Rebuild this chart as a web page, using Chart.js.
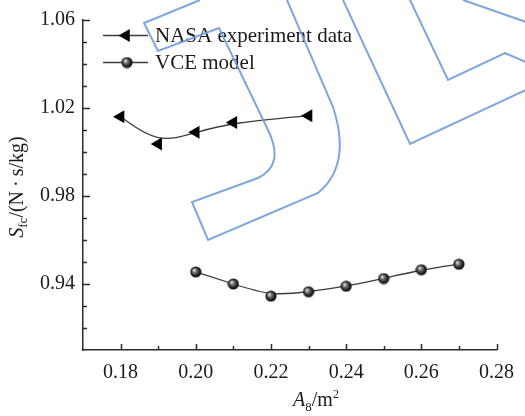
<!DOCTYPE html>
<html>
<head>
<meta charset="utf-8">
<script src="https://cdn.jsdelivr.net/npm/chart.js@4/dist/chart.umd.min.js"></script>
<style>
  html, body { margin: 0; padding: 0; background: #ffffff; }
  #wrap { width: 525px; height: 416px; }
</style>
</head>
<body>
<div id="wrap"><canvas id="c" width="525" height="416"></canvas></div>
<script>
// Nozzle throat area A8 (m^2) and specific fuel consumption Sfc (N·s/kg)
const nasaArea = [0.18, 0.19, 0.20, 0.21, 0.23];
const nasaSfc  = [1.016, 1.0036, 1.009, 1.0134, 1.0165];
const vceArea  = [0.20, 0.21, 0.22, 0.23, 0.24, 0.25, 0.26, 0.27];
const vceSfc   = [0.9455, 0.940, 0.9345, 0.9365, 0.939, 0.9425, 0.9465, 0.949];

const seriesNames = ['NASA experiment data', 'VCE model'];
const xTickLabels = ['0.18', '0.20', '0.22', '0.24', '0.26', '0.28'];
const yTickLabels = ['0.94', '0.98', '1.02', '1.06'];
const xRange = [0.17, 0.28];
const yRange = [0.91, 1.06];
const minorStep = 0.01;

const SERIF = "'Liberation Serif', 'Times New Roman', serif";
const INK = '#1b1b1b';
const AXIS = '#2b2b2b';
const CURVE = '#3c3c3c';

// shaded black ball used as the model marker
function makeBall(d) {
  const cv = document.createElement('canvas');
  cv.width = d; cv.height = d;
  const g = cv.getContext('2d');
  const r = d / 2;
  const grad = g.createRadialGradient(r - 1.8, r - 1.8, 0.4, r, r, r);
  grad.addColorStop(0, '#e6e6e6');
  grad.addColorStop(0.28, '#7a7a7a');
  grad.addColorStop(0.7, '#202020');
  grad.addColorStop(1, '#0a0a0a');
  g.fillStyle = grad;
  g.beginPath();
  g.arc(r, r, r - 0.4, 0, Math.PI * 2);
  g.fill();
  return cv;
}
const ball = makeBall(12);
const TRI_R = 7.5;

function toPoints(xs, ys) { return xs.map((x, i) => ({ x: x, y: ys[i] })); }

// clamped uniform cubic B-spline through the marker positions
function bsplinePath(ctx, pts) {
  if (pts.length < 2) return;
  const n = pts.length;
  const q = [pts[0], pts[0]].concat(pts, [pts[n - 1], pts[n - 1]]);
  ctx.moveTo(pts[0].x, pts[0].y);
  for (let i = 0; i + 3 < q.length; i++) {
    const b = q[i + 1], c = q[i + 2], d = q[i + 3];
    ctx.bezierCurveTo(
      (2 * b.x + c.x) / 3, (2 * b.y + c.y) / 3,
      (b.x + 2 * c.x) / 3, (b.y + 2 * c.y) / 3,
      (b.x + 4 * c.x + d.x) / 6, (b.y + 4 * c.y + d.y) / 6
    );
  }
}

function drawLeftTriangle(ctx, x, y, r) {
  ctx.beginPath();
  for (let k = 0; k < 3; k++) {
    const a = Math.PI + k * 2 * Math.PI / 3;
    const px = x + Math.cos(a) * r, py = y + Math.sin(a) * r;
    if (k === 0) ctx.moveTo(px, py); else ctx.lineTo(px, py);
  }
  ctx.closePath();
  ctx.fill();
}

const splinePlugin = {
  id: 'splineCurves',
  beforeDatasetsDraw(chart) {
    const ctx = chart.ctx;
    ctx.save();
    ctx.strokeStyle = CURVE;
    ctx.lineWidth = 1.3;
    chart.data.datasets.forEach((ds, i) => {
      const meta = chart.getDatasetMeta(i);
      const pts = meta.data.map(p => ({ x: p.x, y: p.y }));
      ctx.beginPath();
      bsplinePath(ctx, pts);
      ctx.stroke();
    });
    ctx.restore();
  }
};

const axisPlugin = {
  id: 'axisDecor',
  afterDraw(chart) {
    const ctx = chart.ctx;
    const xs = chart.scales.x, ys = chart.scales.y;
    const area = chart.chartArea;
    ctx.save();
    ctx.strokeStyle = AXIS;
    ctx.lineWidth = 1.5;
    // inward tick marks
    ctx.beginPath();
    const xMajor = xTickLabels.map(Number);
    for (let v = xRange[0] + minorStep; v <= xRange[1] + 1e-9; v += minorStep) {
      const isMajor = xMajor.some(m => Math.abs(m - v) < 1e-6);
      const px = Math.round(xs.getPixelForValue(v)) + 0.5;
      ctx.moveTo(px, area.bottom);
      ctx.lineTo(px, area.bottom - (isMajor ? 6 : 4));
    }
    const yMajor = yTickLabels.map(Number);
    for (let v = yRange[0] + minorStep; v <= yRange[1] + 1e-9; v += minorStep) {
      const isMajor = yMajor.some(m => Math.abs(m - v) < 1e-6);
      const py = Math.round(ys.getPixelForValue(v)) + 0.5;
      ctx.moveTo(area.left, py);
      ctx.lineTo(area.left + (isMajor ? 7 : 4), py);
    }
    ctx.stroke();

    // axis titles
    ctx.fillStyle = INK;
    ctx.textBaseline = 'alphabetic';
    // x: A8/m²
    const partsX = [
      { t: 'A', f: 'italic 20px ' + SERIF, dy: 0 },
      { t: '8', f: '13px ' + SERIF, dy: 5 },
      { t: '/m', f: '20px ' + SERIF, dy: 0 },
      { t: '2', f: '12px ' + SERIF, dy: -8 }
    ];
    let wx = 0;
    partsX.forEach(p => { ctx.font = p.f; p.w = ctx.measureText(p.t).width; wx += p.w; });
    let cx = 316 - wx / 2;
    partsX.forEach(p => { ctx.font = p.f; ctx.fillText(p.t, cx, 406 + p.dy); cx += p.w; });

    // y: Sfc/(N·s/kg), rotated
    ctx.save();
    ctx.translate(23, 187);
    ctx.rotate(-Math.PI / 2);
    const partsY = [
      { t: 'S', f: 'italic 20px ' + SERIF, dy: 0 },
      { t: 'fc', f: '13px ' + SERIF, dy: 4 },
      { t: '/(N\u2009\u00b7\u2009s/kg)', f: '20px ' + SERIF, dy: 0 }
    ];
    let wy = 0;
    partsY.forEach(p => { ctx.font = p.f; p.w = ctx.measureText(p.t).width; wy += p.w; });
    let cy = -wy / 2;
    partsY.forEach(p => { ctx.font = p.f; ctx.fillText(p.t, cy, p.dy); cy += p.w; });
    ctx.restore();

    // legend
    const rows = [35, 62];
    ctx.font = '21px ' + SERIF;
    ctx.textBaseline = 'middle';
    rows.forEach((ry, i) => {
      ctx.strokeStyle = CURVE;
      ctx.lineWidth = 1.3;
      ctx.beginPath();
      ctx.moveTo(103, ry + 0.5);
      ctx.lineTo(148, ry + 0.5);
      ctx.stroke();
      if (i === 0) {
        ctx.fillStyle = '#000';
        drawLeftTriangle(ctx, 126, ry + 0.5, TRI_R);
      } else {
        ctx.drawImage(ball, 127 - 6, ry + 0.5 - 6);
      }
      ctx.fillStyle = INK;
      ctx.fillText(chart.data.datasets[i].label, 155, ry + 1);
    });

    // outlined logo stamp in the background
    ctx.strokeStyle = 'rgba(112,156,216,0.9)';
    ctx.lineWidth = 2;
    ctx.lineJoin = 'miter';
    ctx.beginPath();
    ctx.moveTo(200, 0);
    ctx.lineTo(144, 23);
    ctx.lineTo(158, 51);
    ctx.lineTo(219, 28);
    ctx.lineTo(268, 130);
    ctx.quadraticCurveTo(285, 165, 258, 178);
    ctx.lineTo(192, 202);
    ctx.lineTo(208, 240);
    ctx.lineTo(318, 193);
    ctx.quadraticCurveTo(352, 165, 333, 107);
    ctx.lineTo(287, 0);
    ctx.moveTo(343, 0);
    ctx.lineTo(410, 144);
    ctx.lineTo(526, 90);
    ctx.moveTo(410, 0);
    ctx.lineTo(448, 80);
    ctx.lineTo(505, 53);
    ctx.lineTo(526, 62);
    ctx.moveTo(463, 0);
    ctx.lineTo(526, 22);
    ctx.stroke();
    ctx.restore();
  }
};

const tickFont = { family: SERIF, size: 20 };

new Chart(document.getElementById('c'), {
  type: 'scatter',
  data: {
    datasets: [
      {
        label: seriesNames[0],
        data: toPoints(nasaArea, nasaSfc),
        showLine: false,
        pointStyle: 'triangle',
        rotation: -90,
        pointRadius: TRI_R,
        backgroundColor: '#000',
        borderColor: '#000',
        borderWidth: 0
      },
      {
        label: seriesNames[1],
        data: toPoints(vceArea, vceSfc),
        showLine: false,
        pointStyle: ball,
        pointRadius: 6,
        backgroundColor: '#000',
        borderColor: '#000'
      }
    ]
  },
  options: {
    responsive: false,
    devicePixelRatio: 1,
    animation: false,
    layout: { padding: { top: 18, right: 25, left: 0, bottom: 0 } },
    plugins: { legend: { display: false }, tooltip: { enabled: false } },
    scales: {
      x: {
        type: 'linear',
        min: xRange[0], max: xRange[1],
        grid: { display: false, drawTicks: false },
        border: { display: true, color: AXIS, width: 1.5 },
        afterBuildTicks(scale) { scale.ticks = xTickLabels.map(s => ({ value: Number(s) })); },
        afterFit(scale) { scale.height = 66; },
        ticks: {
          autoSkip: false, maxRotation: 0, padding: 11,
          color: INK, font: tickFont,
          callback: v => xTickLabels.find(s => Math.abs(Number(s) - v) < 1e-9) || ''
        }
      },
      y: {
        type: 'linear',
        min: yRange[0], max: yRange[1],
        grid: { display: false, drawTicks: false },
        border: { display: true, color: AXIS, width: 1.5 },
        afterBuildTicks(scale) { scale.ticks = yTickLabels.map(s => ({ value: Number(s) })); },
        afterFit(scale) { scale.width = 83; },
        ticks: {
          autoSkip: false, padding: 8,
          color: INK, font: tickFont,
          callback: v => yTickLabels.find(s => Math.abs(Number(s) - v) < 1e-9) || ''
        }
      }
    }
  },
  plugins: [splinePlugin, axisPlugin]
});
</script>
</body>
</html>
